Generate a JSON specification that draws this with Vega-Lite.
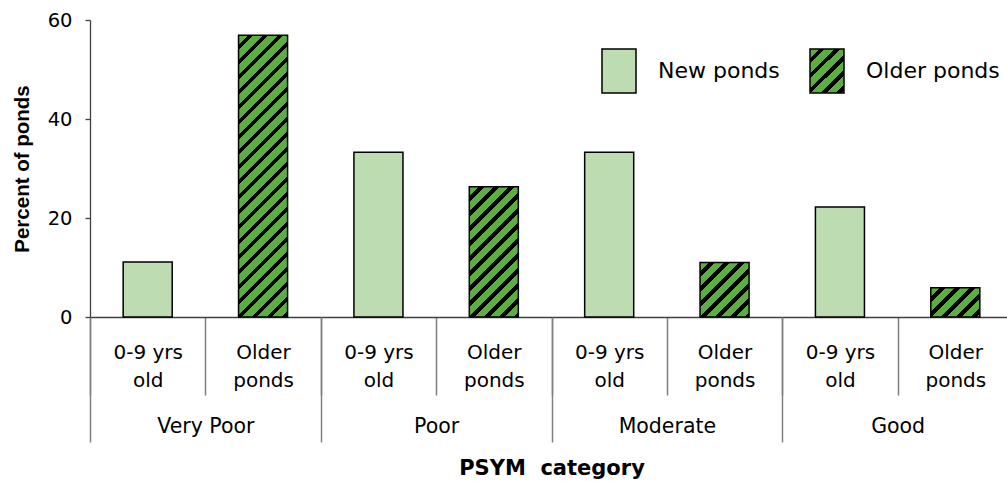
{
"$schema": "https://vega.github.io/schema/vega-lite/v6.json",
"width": 917, "height": 297,
"autosize": "none",
"padding": {"left": 90, "top": 20, "right": 0, "bottom": 164},
"background": "white",
"config": {"view": {"stroke": null}, "font": "DejaVu Sans"},
"data": {"values": [
{"group": "Very Poor", "bar": "Very Poor new", "type": "New ponds", "value": 11.1},
{"group": "Very Poor", "bar": "Very Poor old", "type": "Older ponds", "value": 56.9},
{"group": "Poor", "bar": "Poor new", "type": "New ponds", "value": 33.3},
{"group": "Poor", "bar": "Poor old", "type": "Older ponds", "value": 26.3},
{"group": "Moderate", "bar": "Moderate new", "type": "New ponds", "value": 33.3},
{"group": "Moderate", "bar": "Moderate old", "type": "Older ponds", "value": 11.0},
{"group": "Good", "bar": "Good new", "type": "New ponds", "value": 22.2},
{"group": "Good", "bar": "Good old", "type": "Older ponds", "value": 5.9}
]},
"layer": [
{
"mark": {"type": "bar", "width": {"band": 0.425}, "stroke": "#000", "strokeWidth": 1.5},
"encoding": {
"x": {"field": "bar", "type": "nominal", "sort": null,
 "scale": {"domain": ["Very Poor new","Very Poor old","Poor new","Poor old","Moderate new","Moderate old","Good new","Good old"], "range": [0, 923], "paddingInner": 0, "paddingOuter": 0},
 "axis": {"orient": "bottom", "title": null, "domain": true, "domainColor": "#404040", "domainWidth": 1.3, "ticks": true, "tickBand": "extent", "tickSize": 78, "tickColor": "#808080", "tickWidth": 1.5,
  "labelExpr": "!isString(datum.value) ? '' : (indexof(datum.value, 'new') >= 0 ? ['0-9 yrs', 'old'] : ['Older', 'ponds'])",
  "labelFont": "DejaVu Sans", "labelFontSize": 20, "labelColor": "#000", "labelLineHeight": 28.5, "labelPadding": -53, "labelAngle": 0, "labelBaseline": "top"}},
"y": {"field": "value", "type": "quantitative", "scale": {"domain": [0, 60], "nice": false},
 "axis": {"title": "Percent of ponds", "values": [0, 20, 40, 60], "grid": false, "domainColor": "#404040", "domainWidth": 1.3, "tickColor": "#404040", "tickSize": 5, "tickWidth": 1.3,
  "labelFont": "DejaVu Sans", "labelFontSize": 19.5, "labelColor": "#000", "labelPadding": 13,
  "titleFont": "Liberation Sans", "titleFontSize": 20.5, "titleFontWeight": "bold", "titleColor": "#000", "titlePadding": 15}},
"fill": {"field": "type", "type": "nominal",
 "scale": {"domain": ["New ponds", "Older ponds"], "range": ["#bddcb1", {"expr": "{gradient: 'linear', x1: 0, y1: 0, x2: 0.9897, y2: 1.2807, stops: [{offset: 0, color: '#5cae40'}, {offset: 0.10333, color: '#5cae40'}, {offset: 0.10333, color: '#000'}, {offset: 0.16667, color: '#000'}, {offset: 0.16667, color: '#5cae40'}, {offset: 0.27, color: '#5cae40'}, {offset: 0.27, color: '#000'}, {offset: 0.33333, color: '#000'}, {offset: 0.33333, color: '#5cae40'}, {offset: 0.43667, color: '#5cae40'}, {offset: 0.43667, color: '#000'}, {offset: 0.5, color: '#000'}, {offset: 0.5, color: '#5cae40'}, {offset: 0.60333, color: '#5cae40'}, {offset: 0.60333, color: '#000'}, {offset: 0.66667, color: '#000'}, {offset: 0.66667, color: '#5cae40'}, {offset: 0.77, color: '#5cae40'}, {offset: 0.77, color: '#000'}, {offset: 0.83333, color: '#000'}, {offset: 0.83333, color: '#5cae40'}, {offset: 0.93667, color: '#5cae40'}, {offset: 0.93667, color: '#000'}, {offset: 1, color: '#000'}]}"}]},
 "condition": [
  {"test": "datum.bar === 'Very Poor old'", "value": {"gradient": "linear", "x1": 0, "y1": 0, "x2": 0.207, "y2": 1.1888, "stops": [{"offset":0,"color":"#5cae40"},{"offset":0.02696,"color":"#5cae40"},{"offset":0.02696,"color":"#000"},{"offset":0.04348,"color":"#000"},{"offset":0.04348,"color":"#5cae40"},{"offset":0.07043,"color":"#5cae40"},{"offset":0.07043,"color":"#000"},{"offset":0.08696,"color":"#000"},{"offset":0.08696,"color":"#5cae40"},{"offset":0.11391,"color":"#5cae40"},{"offset":0.11391,"color":"#000"},{"offset":0.13043,"color":"#000"},{"offset":0.13043,"color":"#5cae40"},{"offset":0.15739,"color":"#5cae40"},{"offset":0.15739,"color":"#000"},{"offset":0.17391,"color":"#000"},{"offset":0.17391,"color":"#5cae40"},{"offset":0.20087,"color":"#5cae40"},{"offset":0.20087,"color":"#000"},{"offset":0.21739,"color":"#000"},{"offset":0.21739,"color":"#5cae40"},{"offset":0.24435,"color":"#5cae40"},{"offset":0.24435,"color":"#000"},{"offset":0.26087,"color":"#000"},{"offset":0.26087,"color":"#5cae40"},{"offset":0.28783,"color":"#5cae40"},{"offset":0.28783,"color":"#000"},{"offset":0.30435,"color":"#000"},{"offset":0.30435,"color":"#5cae40"},{"offset":0.3313,"color":"#5cae40"},{"offset":0.3313,"color":"#000"},{"offset":0.34783,"color":"#000"},{"offset":0.34783,"color":"#5cae40"},{"offset":0.37478,"color":"#5cae40"},{"offset":0.37478,"color":"#000"},{"offset":0.3913,"color":"#000"},{"offset":0.3913,"color":"#5cae40"},{"offset":0.41826,"color":"#5cae40"},{"offset":0.41826,"color":"#000"},{"offset":0.43478,"color":"#000"},{"offset":0.43478,"color":"#5cae40"},{"offset":0.46174,"color":"#5cae40"},{"offset":0.46174,"color":"#000"},{"offset":0.47826,"color":"#000"},{"offset":0.47826,"color":"#5cae40"},{"offset":0.50522,"color":"#5cae40"},{"offset":0.50522,"color":"#000"},{"offset":0.52174,"color":"#000"},{"offset":0.52174,"color":"#5cae40"},{"offset":0.5487,"color":"#5cae40"},{"offset":0.5487,"color":"#000"},{"offset":0.56522,"color":"#000"},{"offset":0.56522,"color":"#5cae40"},{"offset":0.59217,"color":"#5cae40"},{"offset":0.59217,"color":"#000"},{"offset":0.6087,"color":"#000"},{"offset":0.6087,"color":"#5cae40"},{"offset":0.63565,"color":"#5cae40"},{"offset":0.63565,"color":"#000"},{"offset":0.65217,"color":"#000"},{"offset":0.65217,"color":"#5cae40"},{"offset":0.67913,"color":"#5cae40"},{"offset":0.67913,"color":"#000"},{"offset":0.69565,"color":"#000"},{"offset":0.69565,"color":"#5cae40"},{"offset":0.72261,"color":"#5cae40"},{"offset":0.72261,"color":"#000"},{"offset":0.73913,"color":"#000"},{"offset":0.73913,"color":"#5cae40"},{"offset":0.76609,"color":"#5cae40"},{"offset":0.76609,"color":"#000"},{"offset":0.78261,"color":"#000"},{"offset":0.78261,"color":"#5cae40"},{"offset":0.80957,"color":"#5cae40"},{"offset":0.80957,"color":"#000"},{"offset":0.82609,"color":"#000"},{"offset":0.82609,"color":"#5cae40"},{"offset":0.85304,"color":"#5cae40"},{"offset":0.85304,"color":"#000"},{"offset":0.86957,"color":"#000"},{"offset":0.86957,"color":"#5cae40"},{"offset":0.89652,"color":"#5cae40"},{"offset":0.89652,"color":"#000"},{"offset":0.91304,"color":"#000"},{"offset":0.91304,"color":"#5cae40"},{"offset":0.94,"color":"#5cae40"},{"offset":0.94,"color":"#000"},{"offset":0.95652,"color":"#000"},{"offset":0.95652,"color":"#5cae40"},{"offset":0.98348,"color":"#5cae40"},{"offset":0.98348,"color":"#000"},{"offset":1,"color":"#000"}]}},
  {"test": "datum.bar === 'Poor old'", "value": {"gradient": "linear", "x1": 0, "y1": 0, "x2": 0.874, "y2": 2.3208, "stops": [{"offset":0,"color":"#5cae40"},{"offset":0.02696,"color":"#5cae40"},{"offset":0.02696,"color":"#000"},{"offset":0.04348,"color":"#000"},{"offset":0.04348,"color":"#5cae40"},{"offset":0.07043,"color":"#5cae40"},{"offset":0.07043,"color":"#000"},{"offset":0.08696,"color":"#000"},{"offset":0.08696,"color":"#5cae40"},{"offset":0.11391,"color":"#5cae40"},{"offset":0.11391,"color":"#000"},{"offset":0.13043,"color":"#000"},{"offset":0.13043,"color":"#5cae40"},{"offset":0.15739,"color":"#5cae40"},{"offset":0.15739,"color":"#000"},{"offset":0.17391,"color":"#000"},{"offset":0.17391,"color":"#5cae40"},{"offset":0.20087,"color":"#5cae40"},{"offset":0.20087,"color":"#000"},{"offset":0.21739,"color":"#000"},{"offset":0.21739,"color":"#5cae40"},{"offset":0.24435,"color":"#5cae40"},{"offset":0.24435,"color":"#000"},{"offset":0.26087,"color":"#000"},{"offset":0.26087,"color":"#5cae40"},{"offset":0.28783,"color":"#5cae40"},{"offset":0.28783,"color":"#000"},{"offset":0.30435,"color":"#000"},{"offset":0.30435,"color":"#5cae40"},{"offset":0.3313,"color":"#5cae40"},{"offset":0.3313,"color":"#000"},{"offset":0.34783,"color":"#000"},{"offset":0.34783,"color":"#5cae40"},{"offset":0.37478,"color":"#5cae40"},{"offset":0.37478,"color":"#000"},{"offset":0.3913,"color":"#000"},{"offset":0.3913,"color":"#5cae40"},{"offset":0.41826,"color":"#5cae40"},{"offset":0.41826,"color":"#000"},{"offset":0.43478,"color":"#000"},{"offset":0.43478,"color":"#5cae40"},{"offset":0.46174,"color":"#5cae40"},{"offset":0.46174,"color":"#000"},{"offset":0.47826,"color":"#000"},{"offset":0.47826,"color":"#5cae40"},{"offset":0.50522,"color":"#5cae40"},{"offset":0.50522,"color":"#000"},{"offset":0.52174,"color":"#000"},{"offset":0.52174,"color":"#5cae40"},{"offset":0.5487,"color":"#5cae40"},{"offset":0.5487,"color":"#000"},{"offset":0.56522,"color":"#000"},{"offset":0.56522,"color":"#5cae40"},{"offset":0.59217,"color":"#5cae40"},{"offset":0.59217,"color":"#000"},{"offset":0.6087,"color":"#000"},{"offset":0.6087,"color":"#5cae40"},{"offset":0.63565,"color":"#5cae40"},{"offset":0.63565,"color":"#000"},{"offset":0.65217,"color":"#000"},{"offset":0.65217,"color":"#5cae40"},{"offset":0.67913,"color":"#5cae40"},{"offset":0.67913,"color":"#000"},{"offset":0.69565,"color":"#000"},{"offset":0.69565,"color":"#5cae40"},{"offset":0.72261,"color":"#5cae40"},{"offset":0.72261,"color":"#000"},{"offset":0.73913,"color":"#000"},{"offset":0.73913,"color":"#5cae40"},{"offset":0.76609,"color":"#5cae40"},{"offset":0.76609,"color":"#000"},{"offset":0.78261,"color":"#000"},{"offset":0.78261,"color":"#5cae40"},{"offset":0.80957,"color":"#5cae40"},{"offset":0.80957,"color":"#000"},{"offset":0.82609,"color":"#000"},{"offset":0.82609,"color":"#5cae40"},{"offset":0.85304,"color":"#5cae40"},{"offset":0.85304,"color":"#000"},{"offset":0.86957,"color":"#000"},{"offset":0.86957,"color":"#5cae40"},{"offset":0.89652,"color":"#5cae40"},{"offset":0.89652,"color":"#000"},{"offset":0.91304,"color":"#000"},{"offset":0.91304,"color":"#5cae40"},{"offset":0.94,"color":"#5cae40"},{"offset":0.94,"color":"#000"},{"offset":0.95652,"color":"#000"},{"offset":0.95652,"color":"#5cae40"},{"offset":0.98348,"color":"#5cae40"},{"offset":0.98348,"color":"#000"},{"offset":1,"color":"#000"}]}},
  {"test": "datum.bar === 'Moderate old'", "value": {"gradient": "linear", "x1": 0, "y1": 0, "x2": 3.1507, "y2": 3.499, "stops": [{"offset":0,"color":"#5cae40"},{"offset":0.02696,"color":"#5cae40"},{"offset":0.02696,"color":"#000"},{"offset":0.04348,"color":"#000"},{"offset":0.04348,"color":"#5cae40"},{"offset":0.07043,"color":"#5cae40"},{"offset":0.07043,"color":"#000"},{"offset":0.08696,"color":"#000"},{"offset":0.08696,"color":"#5cae40"},{"offset":0.11391,"color":"#5cae40"},{"offset":0.11391,"color":"#000"},{"offset":0.13043,"color":"#000"},{"offset":0.13043,"color":"#5cae40"},{"offset":0.15739,"color":"#5cae40"},{"offset":0.15739,"color":"#000"},{"offset":0.17391,"color":"#000"},{"offset":0.17391,"color":"#5cae40"},{"offset":0.20087,"color":"#5cae40"},{"offset":0.20087,"color":"#000"},{"offset":0.21739,"color":"#000"},{"offset":0.21739,"color":"#5cae40"},{"offset":0.24435,"color":"#5cae40"},{"offset":0.24435,"color":"#000"},{"offset":0.26087,"color":"#000"},{"offset":0.26087,"color":"#5cae40"},{"offset":0.28783,"color":"#5cae40"},{"offset":0.28783,"color":"#000"},{"offset":0.30435,"color":"#000"},{"offset":0.30435,"color":"#5cae40"},{"offset":0.3313,"color":"#5cae40"},{"offset":0.3313,"color":"#000"},{"offset":0.34783,"color":"#000"},{"offset":0.34783,"color":"#5cae40"},{"offset":0.37478,"color":"#5cae40"},{"offset":0.37478,"color":"#000"},{"offset":0.3913,"color":"#000"},{"offset":0.3913,"color":"#5cae40"},{"offset":0.41826,"color":"#5cae40"},{"offset":0.41826,"color":"#000"},{"offset":0.43478,"color":"#000"},{"offset":0.43478,"color":"#5cae40"},{"offset":0.46174,"color":"#5cae40"},{"offset":0.46174,"color":"#000"},{"offset":0.47826,"color":"#000"},{"offset":0.47826,"color":"#5cae40"},{"offset":0.50522,"color":"#5cae40"},{"offset":0.50522,"color":"#000"},{"offset":0.52174,"color":"#000"},{"offset":0.52174,"color":"#5cae40"},{"offset":0.5487,"color":"#5cae40"},{"offset":0.5487,"color":"#000"},{"offset":0.56522,"color":"#000"},{"offset":0.56522,"color":"#5cae40"},{"offset":0.59217,"color":"#5cae40"},{"offset":0.59217,"color":"#000"},{"offset":0.6087,"color":"#000"},{"offset":0.6087,"color":"#5cae40"},{"offset":0.63565,"color":"#5cae40"},{"offset":0.63565,"color":"#000"},{"offset":0.65217,"color":"#000"},{"offset":0.65217,"color":"#5cae40"},{"offset":0.67913,"color":"#5cae40"},{"offset":0.67913,"color":"#000"},{"offset":0.69565,"color":"#000"},{"offset":0.69565,"color":"#5cae40"},{"offset":0.72261,"color":"#5cae40"},{"offset":0.72261,"color":"#000"},{"offset":0.73913,"color":"#000"},{"offset":0.73913,"color":"#5cae40"},{"offset":0.76609,"color":"#5cae40"},{"offset":0.76609,"color":"#000"},{"offset":0.78261,"color":"#000"},{"offset":0.78261,"color":"#5cae40"},{"offset":0.80957,"color":"#5cae40"},{"offset":0.80957,"color":"#000"},{"offset":0.82609,"color":"#000"},{"offset":0.82609,"color":"#5cae40"},{"offset":0.85304,"color":"#5cae40"},{"offset":0.85304,"color":"#000"},{"offset":0.86957,"color":"#000"},{"offset":0.86957,"color":"#5cae40"},{"offset":0.89652,"color":"#5cae40"},{"offset":0.89652,"color":"#000"},{"offset":0.91304,"color":"#000"},{"offset":0.91304,"color":"#5cae40"},{"offset":0.94,"color":"#5cae40"},{"offset":0.94,"color":"#000"},{"offset":0.95652,"color":"#000"},{"offset":0.95652,"color":"#5cae40"},{"offset":0.98348,"color":"#5cae40"},{"offset":0.98348,"color":"#000"},{"offset":1,"color":"#000"}]}},
  {"test": "datum.bar === 'Good old'", "value": {"gradient": "linear", "x1": 0, "y1": 0, "x2": 5.1932, "y2": 3.0939, "stops": [{"offset":0,"color":"#5cae40"},{"offset":0.02696,"color":"#5cae40"},{"offset":0.02696,"color":"#000"},{"offset":0.04348,"color":"#000"},{"offset":0.04348,"color":"#5cae40"},{"offset":0.07043,"color":"#5cae40"},{"offset":0.07043,"color":"#000"},{"offset":0.08696,"color":"#000"},{"offset":0.08696,"color":"#5cae40"},{"offset":0.11391,"color":"#5cae40"},{"offset":0.11391,"color":"#000"},{"offset":0.13043,"color":"#000"},{"offset":0.13043,"color":"#5cae40"},{"offset":0.15739,"color":"#5cae40"},{"offset":0.15739,"color":"#000"},{"offset":0.17391,"color":"#000"},{"offset":0.17391,"color":"#5cae40"},{"offset":0.20087,"color":"#5cae40"},{"offset":0.20087,"color":"#000"},{"offset":0.21739,"color":"#000"},{"offset":0.21739,"color":"#5cae40"},{"offset":0.24435,"color":"#5cae40"},{"offset":0.24435,"color":"#000"},{"offset":0.26087,"color":"#000"},{"offset":0.26087,"color":"#5cae40"},{"offset":0.28783,"color":"#5cae40"},{"offset":0.28783,"color":"#000"},{"offset":0.30435,"color":"#000"},{"offset":0.30435,"color":"#5cae40"},{"offset":0.3313,"color":"#5cae40"},{"offset":0.3313,"color":"#000"},{"offset":0.34783,"color":"#000"},{"offset":0.34783,"color":"#5cae40"},{"offset":0.37478,"color":"#5cae40"},{"offset":0.37478,"color":"#000"},{"offset":0.3913,"color":"#000"},{"offset":0.3913,"color":"#5cae40"},{"offset":0.41826,"color":"#5cae40"},{"offset":0.41826,"color":"#000"},{"offset":0.43478,"color":"#000"},{"offset":0.43478,"color":"#5cae40"},{"offset":0.46174,"color":"#5cae40"},{"offset":0.46174,"color":"#000"},{"offset":0.47826,"color":"#000"},{"offset":0.47826,"color":"#5cae40"},{"offset":0.50522,"color":"#5cae40"},{"offset":0.50522,"color":"#000"},{"offset":0.52174,"color":"#000"},{"offset":0.52174,"color":"#5cae40"},{"offset":0.5487,"color":"#5cae40"},{"offset":0.5487,"color":"#000"},{"offset":0.56522,"color":"#000"},{"offset":0.56522,"color":"#5cae40"},{"offset":0.59217,"color":"#5cae40"},{"offset":0.59217,"color":"#000"},{"offset":0.6087,"color":"#000"},{"offset":0.6087,"color":"#5cae40"},{"offset":0.63565,"color":"#5cae40"},{"offset":0.63565,"color":"#000"},{"offset":0.65217,"color":"#000"},{"offset":0.65217,"color":"#5cae40"},{"offset":0.67913,"color":"#5cae40"},{"offset":0.67913,"color":"#000"},{"offset":0.69565,"color":"#000"},{"offset":0.69565,"color":"#5cae40"},{"offset":0.72261,"color":"#5cae40"},{"offset":0.72261,"color":"#000"},{"offset":0.73913,"color":"#000"},{"offset":0.73913,"color":"#5cae40"},{"offset":0.76609,"color":"#5cae40"},{"offset":0.76609,"color":"#000"},{"offset":0.78261,"color":"#000"},{"offset":0.78261,"color":"#5cae40"},{"offset":0.80957,"color":"#5cae40"},{"offset":0.80957,"color":"#000"},{"offset":0.82609,"color":"#000"},{"offset":0.82609,"color":"#5cae40"},{"offset":0.85304,"color":"#5cae40"},{"offset":0.85304,"color":"#000"},{"offset":0.86957,"color":"#000"},{"offset":0.86957,"color":"#5cae40"},{"offset":0.89652,"color":"#5cae40"},{"offset":0.89652,"color":"#000"},{"offset":0.91304,"color":"#000"},{"offset":0.91304,"color":"#5cae40"},{"offset":0.94,"color":"#5cae40"},{"offset":0.94,"color":"#000"},{"offset":0.95652,"color":"#000"},{"offset":0.95652,"color":"#5cae40"},{"offset":0.98348,"color":"#5cae40"},{"offset":0.98348,"color":"#000"},{"offset":1,"color":"#000"}]}}
 ],
 "legend": {"orient": "none", "legendX": 506, "legendY": 28, "direction": "horizontal", "title": null, "padding": 0,
  "symbolType": "M-0.773,-1H0.773V1H-0.773Z", "symbolSize": 1936, "symbolStrokeColor": "#000", "symbolStrokeWidth": 1.5,
  "labelFont": "DejaVu Sans", "labelFontSize": 22, "labelColor": "#000", "labelOffset": 16, "columnPadding": 24, "labelLimit": 300}
}
}
},
{
"mark": {"type": "rule", "opacity": 0},
"encoding": {
"x": {"field": "group", "type": "nominal", "sort": null,
 "scale": {"domain": ["Very Poor", "Poor", "Moderate", "Good"], "range": [0, 923], "paddingInner": 0, "paddingOuter": 0},
 "axis": {"orient": "bottom", "title": "PSYM\u00a0 category", "domain": false, "ticks": true, "tickBand": "extent", "tickSize": 125, "tickColor": "#808080", "tickWidth": 1.5,
  "labelFont": "DejaVu Sans", "labelFontSize": 20.5, "labelColor": "#000", "labelPadding": -26, "labelAngle": 0,
  "titleFont": "DejaVu Sans", "titleFontSize": 21, "titleFontWeight": "bold", "titleColor": "#000", "titlePadding": 15}}
}
}
],
"resolve": {"scale": {"x": "independent"}, "axis": {"x": "independent"}}
}
